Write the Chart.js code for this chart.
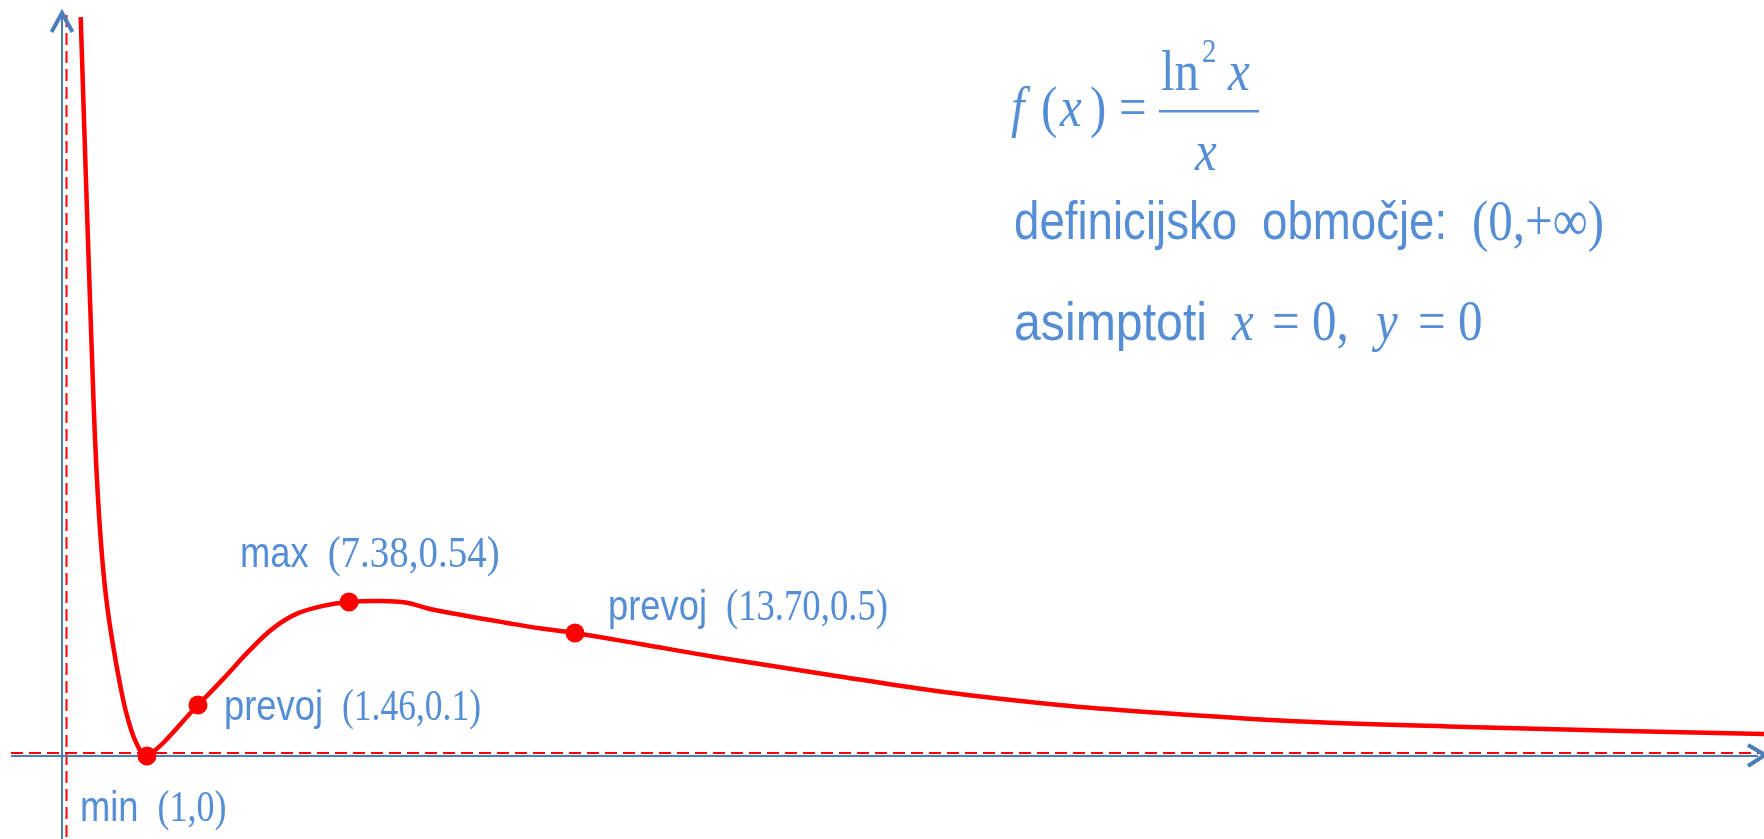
<!DOCTYPE html>
<html>
<head>
<meta charset="utf-8">
<title>f(x) = ln²x / x</title>
<script src="https://cdn.jsdelivr.net/npm/chart.js@4.4.1/dist/chart.umd.min.js"></script>
<style>
html, body { margin: 0; padding: 0; background: #fff; }
#wrap { width: 1764px; height: 839px; }
</style>
</head>
<body>
<div id="wrap"><canvas id="graf" width="1764" height="839"></canvas></div>
<script>
// curve of f(x) = ln^2 x / x, traced as a sketch
var curveX = [0.22, 0.29, 0.37, 0.40, 0.435, 0.48, 0.53, 0.60, 0.68, 0.76, 0.87, 1, 1.46, 2.44, 3.50,
    4.40, 5.34, 6.36, 7.38, 8.25, 9.00, 9.56, 10.68, 11.80, 12.72, 13.70, 15.14, 16.80, 19.34, 21.86,
    24.41, 26.42, 29.91, 33.41, 36.90, 40];
var curveY = [2.93, 2.18, 1.37, 1.12, 0.90, 0.69, 0.536, 0.433, 0.222, 0.082, 0.027, 0, 0.1, 0.244, 0.406,
    0.506, 0.525, 0.535, 0.54, 0.544, 0.539, 0.532, 0.522, 0.513, 0.506, 0.5, 0.439, 0.367, 0.267, 0.172,
    0.1, 0.086, 0.067, 0.057, 0.049, 0.043];

// marked points: minimum, inflections, maximum
var pointX = [1, 1.46, 7.38, 13.70];
var pointY = [0, 0.1, 0.54, 0.5];
var pointName = ['min', 'prevoj', 'max', 'prevoj'];
var pointText = ['(1,0)', '(1.46,0.1)', '(7.38,0.54)', '(13.70,0.5)'];

var RED = '#ff0000';
var AXIS = '#4a7ebb';
var TEXT = '#558ed5';
var SQUEEZE = 0.845;
var SANS = '"Liberation Sans", Arial, sans-serif';
var SERIF = '"Liberation Serif", "Times New Roman", serif';

// the sketch is not to scale: each axis is stretched piecewise between these values
var warp = {
    x: { value: [-0.73, 0, 1, 1.46, 7.38, 13.70, 40],
         at: [0, 0.03515, 0.08333, 0.11224, 0.19785, 0.32596, 1] },
    y: { value: [-0.16, 0, 0.1, 0.5, 0.54, 3],
         at: [0, 0.09893, 0.15971, 0.24553, 0.28248, 1] }
};

function lookup(v, from, to) {
    var n = from.length;
    for (var i = 1; i < n; i++) {
        if (v <= from[i] || i === n - 1) {
            return to[i - 1] + (v - from[i - 1]) * (to[i] - to[i - 1]) / (from[i] - from[i - 1]);
        }
    }
}

class WarpScale extends Chart.LinearScale {
    getPixelForValue(value) {
        if (value === null || value === undefined || isNaN(value)) return NaN;
        var w = warp[this.axis];
        return this.getPixelForDecimal(lookup(value, w.value, w.at));
    }
    getValueForPixel(pixel) {
        var w = warp[this.axis];
        return lookup(this.getDecimalForPixel(pixel), w.at, w.value);
    }
}
WarpScale.id = 'warp';
Chart.register(WarpScale);

// narrow text; with a width given the string is fitted to it
function say(ctx, s, x, y, font, width) {
    ctx.font = font;
    var k = width ? width / ctx.measureText(s).width : SQUEEZE;
    ctx.save();
    ctx.translate(x, y);
    ctx.scale(k, 1);
    ctx.fillText(s, 0, 0);
    ctx.restore();
    return ctx.measureText(s).width * k;
}

function stroke(ctx, pts) {
    ctx.beginPath();
    ctx.moveTo(pts[0][0], pts[0][1]);
    for (var i = 1; i < pts.length; i++) ctx.lineTo(pts[i][0], pts[i][1]);
    ctx.stroke();
}

var sketch = {
    id: 'sketch',
    beforeDatasetsDraw: function (chart) {
        var ctx = chart.ctx, a = chart.chartArea;
        var x0 = chart.scales.x.getPixelForValue(0);
        var y0 = chart.scales.y.getPixelForValue(0);
        ctx.save();
        // asymptotes x = 0 and y = 0, a few px off the axes so both stay visible
        ctx.strokeStyle = RED;
        ctx.lineWidth = 2;
        ctx.setLineDash([12, 6]);
        stroke(ctx, [[x0 + 4.5, a.top + 15], [x0 + 4.5, a.bottom]]);
        stroke(ctx, [[a.left + 11, y0 - 3], [a.right, y0 - 3]]);
        // axes with open arrowheads
        ctx.setLineDash([]);
        ctx.strokeStyle = AXIS;
        stroke(ctx, [[x0, a.bottom], [x0, a.top + 14]]);
        stroke(ctx, [[a.left + 11, y0], [a.right - 6, y0]]);
        ctx.lineWidth = 4;
        stroke(ctx, [[x0 - 10.5, a.top + 32], [x0, a.top + 13], [x0 + 10.5, a.top + 32]]);
        stroke(ctx, [[a.right - 16, y0 - 11], [a.right + 1, y0 - 1], [a.right - 16, y0 + 10]]);
        ctx.restore();
    },
    afterDatasetsDraw: function (chart) {
        var ctx = chart.ctx;
        var sx = chart.scales.x, sy = chart.scales.y;
        var offset = [[-67, 65], [26, 15], [-109, -35], [33, -13]];
        var coordWidth = [69, 139, 172, 162];
        ctx.save();
        ctx.fillStyle = TEXT;
        ctx.textBaseline = 'alphabetic';
        for (var i = 0; i < pointX.length; i++) {
            var lx = sx.getPixelForValue(pointX[i]) + offset[i][0];
            var ly = sy.getPixelForValue(pointY[i]) + offset[i][1];
            var w = say(ctx, pointName[i], lx, ly, '43px ' + SANS);
            say(ctx, pointText[i], lx + w + 19, ly, '45px ' + SERIF, coordWidth[i]);
        }

        var serif = '58px ' + SERIF, italic = 'italic 58px ' + SERIF, sans = '54px ' + SANS;
        // f(x) = ln^2 x / x
        say(ctx, 'f', 1011, 126, italic);
        say(ctx, '(', 1041, 126, serif);
        say(ctx, 'x', 1060, 126, italic);
        say(ctx, ')', 1090, 126, serif);
        say(ctx, '=', 1119, 126, serif);
        say(ctx, 'ln', 1161, 90, serif);
        say(ctx, '2', 1202, 62, '34px ' + SERIF);
        say(ctx, 'x', 1228, 90, italic);
        ctx.fillRect(1159, 110, 100, 2.5);
        say(ctx, 'x', 1195, 170, italic);
        // domain
        say(ctx, 'definicijsko', 1014, 239, sans);
        say(ctx, 'območje:', 1262, 239, sans);
        say(ctx, '(0,+∞)', 1472, 240, serif);
        // asymptotes
        say(ctx, 'asimptoti', 1014, 340, sans, 193);
        say(ctx, 'x', 1232, 340, italic);
        say(ctx, '=', 1272, 340, serif);
        say(ctx, '0,', 1312, 340, serif);
        say(ctx, 'y', 1376, 340, italic);
        say(ctx, '=', 1418, 340, serif);
        say(ctx, '0', 1458, 340, serif);
        ctx.restore();
    }
};

var curve = curveX.map(function (x, i) { return { x: x, y: curveY[i] }; });
var points = pointX.map(function (x, i) { return { x: x, y: pointY[i] }; });

new Chart(document.getElementById('graf'), {
    type: 'line',
    data: {
        datasets: [
            {
                label: 'f(x)',
                data: curve,
                borderColor: RED,
                borderWidth: 4.5,
                pointRadius: 0,
                fill: false,
                tension: 0.35
            },
            {
                label: 'točke',
                data: points,
                showLine: false,
                pointRadius: 9.5,
                pointBackgroundColor: RED,
                pointBorderColor: RED,
                pointBorderWidth: 0
            }
        ]
    },
    options: {
        responsive: false,
        animation: false,
        events: [],
        layout: { padding: 0, autoPadding: false },
        plugins: { legend: { display: false }, tooltip: { enabled: false } },
        scales: {
            x: { type: 'warp', min: -0.73, max: 40, display: false },
            y: { type: 'warp', min: -0.16, max: 3, display: false }
        }
    },
    plugins: [sketch]
});
</script>
</body>
</html>
